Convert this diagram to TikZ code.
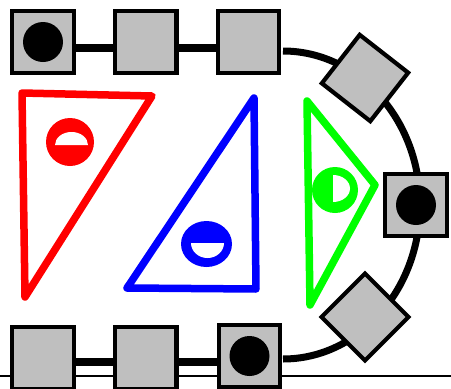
\documentclass[tikz,border=0pt]{standalone}
\usepackage{xcolor}
\usepackage{tikz}
\usetikzlibrary{positioning}

\begin{document}
\begin{tikzpicture}[
    x=1pt, y=-1pt,
    port/.style = {
        rectangle,
        draw=black,
        line width=4.2pt,
        fill=gray!50,
        minimum size=61.5pt,
        inner sep=0pt
    },
    pin/.style = {circle, fill=black, minimum size=40pt, inner sep=0pt},
    wire/.style = {line width=8.5pt},
    ring/.style = {line width=7pt},
    wedge/.style = {line width=7.5pt, line join=round, line cap=round}
]

\useasboundingbox (0,0) rectangle (451,389);

\coordinate (base west) at (0,376);
\coordinate (base east) at (451,376);
\draw[line width=1.8pt] (base west) -- (base east);

\coordinate (ring bottom) at (283,359);
\draw[ring] (ring bottom) arc[start angle=90, end angle=-90, x radius=137, y radius=154];

\node [port] (top1) at (43,42) {};
\node [port, right=37pt of top1] (top2) {};
\node [port, right=37pt of top2] (top3) {};

\node [port] (bot1) at (43,358) {};
\node [port, right=37pt of bot1] (bot2) {};
\node [port] (bot3) at (249.5,356) {};

\node [port, rotate=-38] (upper diamond) at (365,78) {};
\node [port] (right port) at (416,205) {};
\node [port, rotate=45] (lower diamond) at (365,317) {};

\draw[wire] ([yshift=-6pt]top1.east) -- ([yshift=-6pt]top2.west);
\draw[wire] ([yshift=-6pt]top2.east) -- ([yshift=-6pt]top3.west);
\draw[wire] ([yshift=-4pt]bot1.east) -- ([yshift=-4pt]bot2.west);
\draw[wire] ([yshift=-4pt]bot2.east) -- ([yshift=-4pt]bot2.east -| bot3.west);

\node [pin] (pin top) at (top1) {};
\node [pin] (pin right) at (right port) {};
\node [pin] (pin bottom) at (bot3) {};

\draw[wedge, red] (22,93) -- (152,96) -- (25,297) -- cycle;
\fill[red] (70,142) circle[radius=24];
\fill[white] (55,145) arc[start angle=180, end angle=360, x radius=16.5, y radius=13] -- cycle;

\draw[wedge, blue] (254,98) -- (256,289) -- (127,288) -- cycle;
\fill[blue] (206.5,244) circle[x radius=25.5, y radius=23];
\fill[white] (191,243) arc[start angle=180, end angle=0, x radius=16.5, y radius=15] -- cycle;

\draw[wedge, green] (307,101) -- (375,185) -- (310,305) -- cycle;
\fill[green] (335,190) circle[radius=23];
\fill[white] (333,175) arc[start angle=-90, end angle=90, x radius=17, y radius=13.5] -- cycle;

\end{tikzpicture}
\end{document}
